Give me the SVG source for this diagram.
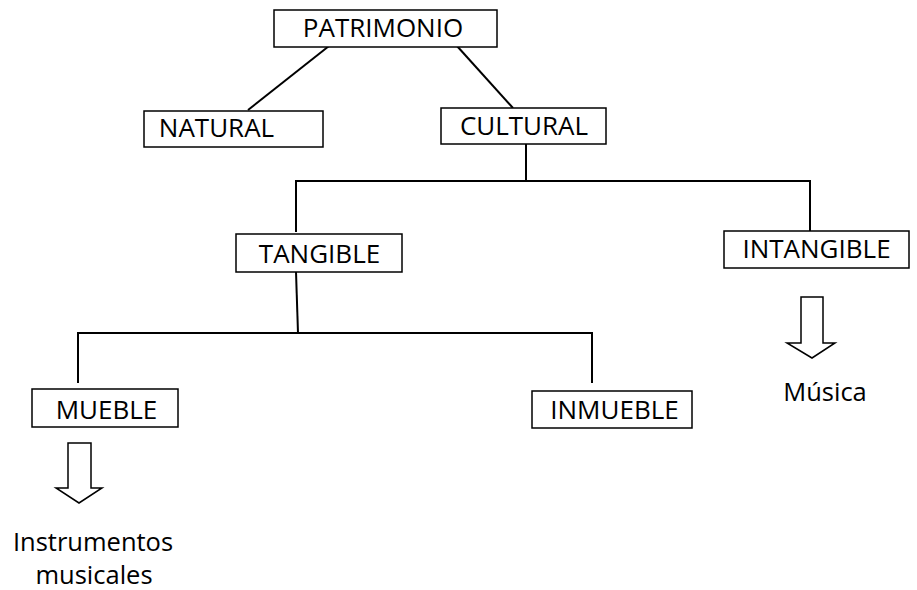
<svg xmlns="http://www.w3.org/2000/svg" width="917" height="590" viewBox="0 0 917 590">
<style>
.box{fill:#fff;stroke:#000;stroke-width:1.5}
.lbl{font-family:"Open Sans","Liberation Sans",sans-serif;font-size:26px;fill:#000;text-anchor:middle}
.txt{font-family:"Open Sans","Liberation Sans",sans-serif;font-size:25.5px;fill:#000;text-anchor:middle}
.con{fill:none;stroke:#000;stroke-width:2}
.arr{fill:#fff;stroke:#000;stroke-width:1.5;stroke-linejoin:miter}
</style>
<rect width="917" height="590" fill="#fff"/>
<g id="connectors">
<line class="con" x1="329" y1="46" x2="248" y2="110"/>
<line class="con" x1="457" y1="46" x2="513" y2="108"/>
<line class="con" x1="526" y1="144" x2="526" y2="181"/>
<polyline class="con" points="296,232 296,181 810,181 810,231"/>
<line class="con" x1="296" y1="272" x2="298" y2="333"/>
<polyline class="con" points="78,383 78,333 592,333 592,383"/>
</g>
<g id="patrimonio"><rect class="box" x="274" y="10" width="223" height="37"/><text class="lbl" x="383" y="37">PATRIMONIO</text></g>
<g id="natural"><rect class="box" x="144" y="111" width="179" height="36"/><text class="lbl" x="216.5" y="137">NATURAL</text></g>
<g id="cultural"><rect class="box" x="441" y="108" width="165" height="36"/><text class="lbl" x="524" y="135">CULTURAL</text></g>
<g id="tangible"><rect class="box" x="236" y="234" width="166" height="38"/><text class="lbl" x="319.5" y="263">TANGIBLE</text></g>
<g id="intangible"><rect class="box" x="724" y="231" width="185" height="37"/><text class="lbl" x="816.5" y="258">INTANGIBLE</text></g>
<g id="mueble"><rect class="box" x="32" y="389" width="146" height="38"/><text class="lbl" x="106.5" y="419">MUEBLE</text></g>
<g id="inmueble"><rect class="box" x="532" y="391" width="160" height="37"/><text class="lbl" x="614.5" y="419">INMUEBLE</text></g>
<g id="musica-arrow"><polygon class="arr" points="801,297 823,297 823,343 835,343 812,358 787,343 801,343"/></g>
<g id="musica"><text class="txt" x="825" y="401">Música</text></g>
<g id="instrumentos-arrow"><polygon class="arr" points="68,443 91,443 91,488 102,488 79,503 56,488 68,488"/></g>
<g id="instrumentos"><text class="txt" x="93" y="551">Instrumentos</text><text class="txt" x="94" y="584">musicales</text></g>
</svg>
